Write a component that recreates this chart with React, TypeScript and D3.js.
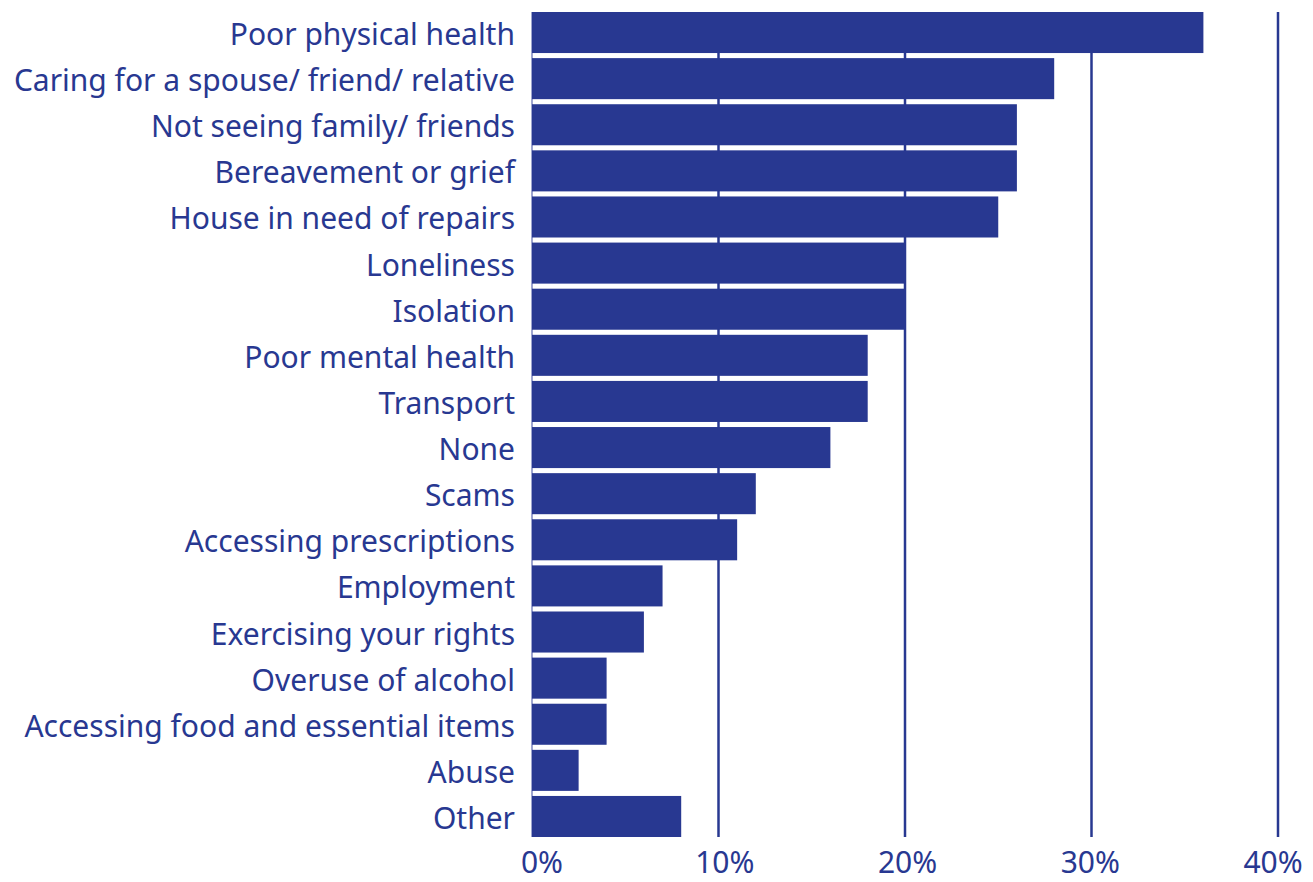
import React from 'react';
import * as d3 from 'd3';

const categories = [
  'Poor physical health',
  'Caring for a spouse/ friend/ relative',
  'Not seeing family/ friends',
  'Bereavement or grief',
  'House in need of repairs',
  'Loneliness',
  'Isolation',
  'Poor mental health',
  'Transport',
  'None',
  'Scams',
  'Accessing prescriptions',
  'Employment',
  'Exercising your rights',
  'Overuse of alcohol',
  'Accessing food and essential items',
  'Abuse',
  'Other',
];
const values = [36, 28, 26, 26, 25, 20, 20, 18, 18, 16, 12, 11, 7, 6, 4, 4, 2.5, 8];
const tickValues = [0, 10, 20, 30, 40];
const tickLabels = ['0%', '10%', '20%', '30%', '40%'];

const COLOR = '#283891';
const FONT = '"Noto Sans", sans-serif';

export default function App() {
  const W = 1313;
  const H = 882;
  const x = d3.scaleLinear().domain([0, 40]).range([532, 1278]);
  // tick labels are laid out slightly differently from the gridlines in the reference
  const xLabel = d3.scaleLinear().domain([0, 40]).range([542, 1273]);
  const y = d3.scaleBand<string>().domain(categories).range([12, 837]).paddingInner(0.11).paddingOuter(0);
  const bw = y.bandwidth();
  const [top, bottom] = y.range();

  return (
    <svg width={W} height={H} style={{ position: 'absolute', left: 0, top: 0, background: '#fff' }}>
      {tickValues.map((t, i) => (
        <line
          key={'g' + t}
          x1={x(t)}
          x2={x(t)}
          y1={top}
          y2={bottom}
          stroke={i === 0 ? '#9ea5cf' : COLOR}
          strokeWidth={i === 0 ? 2 : 2.5}
        />
      ))}
      {categories.map((c, i) => (
        <rect key={c} x={x(0)} y={y(c)} width={x(values[i]) - x(0)} height={bw} fill={COLOR} />
      ))}
      {categories.map((c) => (
        <text
          key={'l' + c}
          x={515}
          y={(y(c) as number) + bw / 2 + 1}
          textAnchor="end"
          dominantBaseline="central"
          fill={COLOR}
          fontFamily={FONT}
          fontSize={30}
        >
          {c}
        </text>
      ))}
      {tickValues.map((t, i) => (
        <text
          key={'t' + t}
          x={xLabel(t)}
          y={861}
          textAnchor="middle"
          dominantBaseline="central"
          fill={COLOR}
          fontFamily={FONT}
          fontSize={30}
        >
          {tickLabels[i]}
        </text>
      ))}
    </svg>
  );
}
